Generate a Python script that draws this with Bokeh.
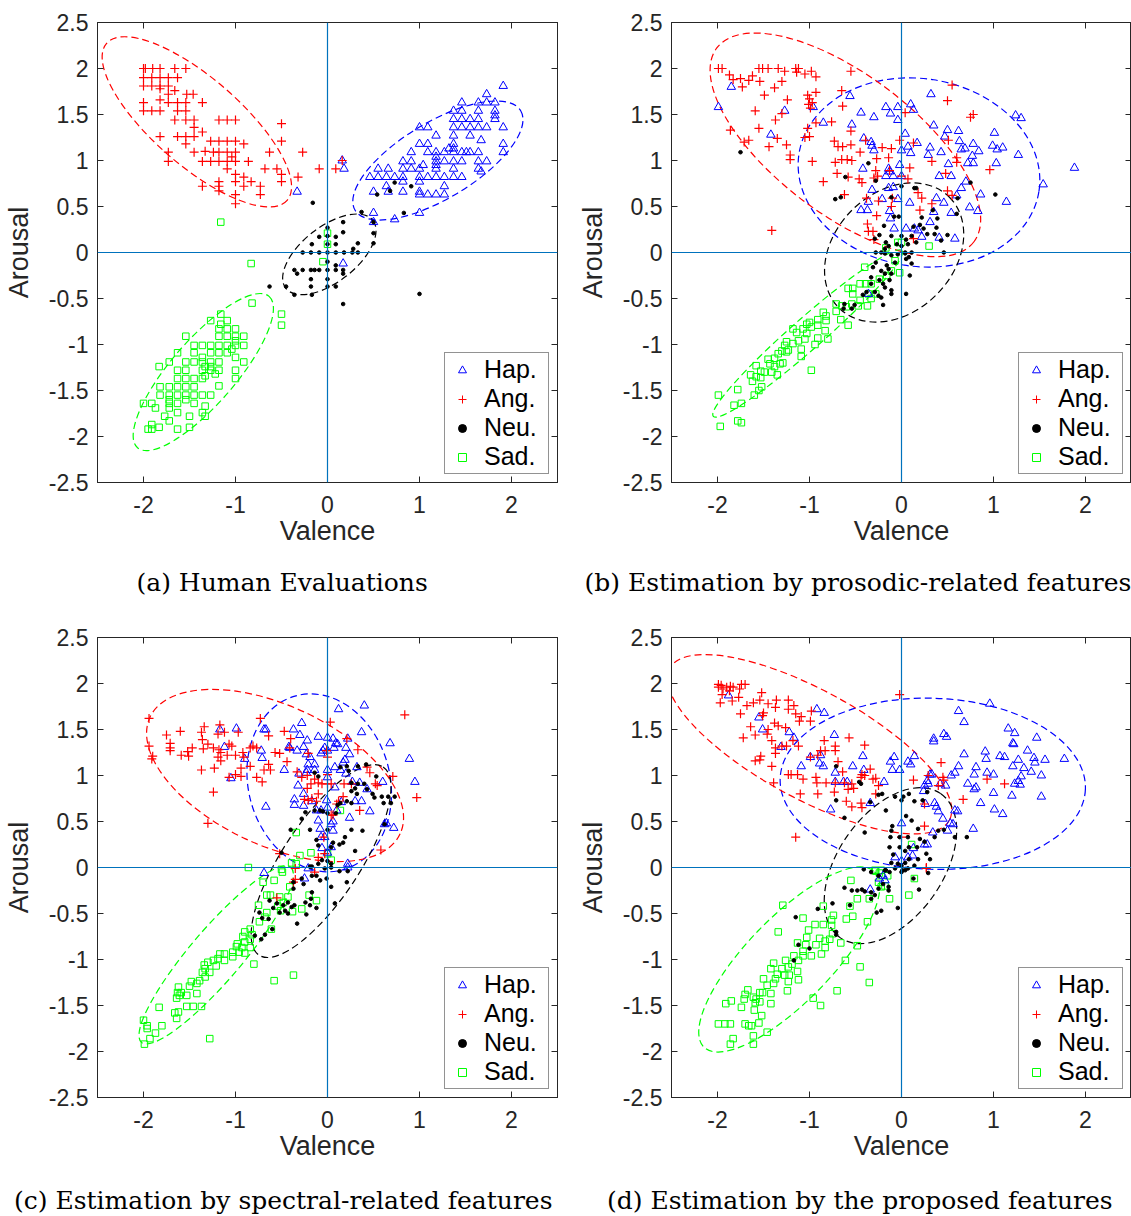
import numpy as np
from bokeh.plotting import figure
from bokeh.models import (Range1d, FixedTicker, LinearAxis, Span, Legend, LegendItem,
                          Title, Div, NumeralTickFormatter, CustomJSTickFormatter)
from bokeh.layouts import column, row
from bokeh.embed import file_html
from bokeh.resources import INLINE

# ---------------- data (valence, arousal) ----------------
A_HAP = [(1.91,1.81),(1.73,1.72),(1.46,1.63),(1.64,1.63),(1.73,1.63),(1.82,1.63),
(1.37,1.54),(1.46,1.54),(1.64,1.54),(1.82,1.54),(1.82,1.49),
(1.37,1.45),(1.46,1.45),(1.55,1.45),(1.64,1.45),(1.82,1.45),
(1.0,1.36),(1.09,1.36),(1.37,1.36),(1.46,1.36),(1.55,1.36),(1.64,1.36),(1.73,1.36),(1.91,1.36),
(1.18,1.27),(1.37,1.27),(1.55,1.27),(1.67,1.22),
(1.0,1.18),(1.09,1.18),(1.37,1.18),(1.91,1.18),(1.32,1.13),(1.37,1.13),
(0.91,1.09),(1.09,1.09),(1.18,1.09),(1.27,1.09),(1.37,1.09),(1.46,1.09),(1.51,1.09),(1.55,1.09),(1.64,1.09),(1.91,1.09),
(1.18,1.04),
(0.82,0.99),(0.91,0.99),(1.18,0.99),(1.27,0.99),(1.37,0.99),(1.46,0.99),(1.64,0.99),(1.73,0.99),
(1.18,0.95),(1.04,0.95),
(0.55,0.91),(0.66,0.91),(0.82,0.91),(0.91,0.91),(1.0,0.91),(1.18,0.91),(1.37,0.91),(1.64,0.91),(1.67,0.88),(0.18,0.91),
(0.46,0.82),(0.55,0.82),(0.64,0.82),(0.73,0.82),(0.82,0.82),(1.0,0.82),(1.09,0.82),(1.18,0.82),(1.27,0.82),(1.37,0.82),(1.46,0.82),
(1.0,0.77),(0.82,0.77),(0.64,0.72),(1.27,0.72),
(0.5,0.66),(0.66,0.66),(0.82,0.66),(1.0,0.66),
(1.0,0.63),(1.09,0.63),(1.18,0.63),(1.27,0.63),
(-0.33,0.66),(0.5,0.43),(1.0,0.43),(0.5,0.33),(0.73,0.36),(0.16,1.0),(0.17,-0.12)]
A_ANG = [(-2.0,2.0),(-1.98,2.0),(-1.9,2.0),(-1.82,2.0),(-1.66,2.0),(-1.54,2.0),
(-2.0,1.9),(-1.91,1.9),(-1.82,1.9),(-1.73,1.9),(-1.63,1.9),
(-2.0,1.81),(-1.91,1.81),(-1.82,1.81),(-1.73,1.81),(-1.82,1.78),(-1.66,1.76),
(-1.73,1.72),(-1.53,1.72),(-1.46,1.72),
(-2.0,1.63),(-1.82,1.66),(-1.73,1.63),(-1.63,1.63),(-1.54,1.63),(-1.36,1.63),
(-2.0,1.54),(-1.91,1.54),(-1.82,1.54),(-1.63,1.54),(-1.54,1.54),
(-1.66,1.44),(-1.54,1.44),(-1.45,1.44),(-1.18,1.44),(-1.09,1.44),(-1.0,1.44),(-0.5,1.4),
(-1.45,1.36),(-1.36,1.31),
(-1.82,1.26),(-1.63,1.26),(-1.54,1.26),(-1.45,1.26),
(-1.27,1.21),(-1.18,1.21),(-1.09,1.21),(-1.0,1.21),(-0.5,1.21),(-1.54,1.18),(-0.91,1.18),
(-1.73,1.09),(-1.45,1.09),(-1.33,1.1),(-1.24,1.09),(-1.18,1.09),(-1.09,1.09),(-1.0,1.09),(-0.63,1.09),(-0.27,1.09),(-1.04,1.04),
(-1.73,0.99),(-1.36,0.99),(-1.27,0.99),(-1.18,0.99),(-1.09,0.99),(-1.0,0.99),(-0.86,0.99),
(-1.09,0.91),(-0.68,0.91),(-0.55,0.91),(-0.09,0.91),(0.09,0.91),
(-1.0,0.85),(-0.5,0.85),(-0.91,0.82),(-0.32,0.82),
(-1.18,0.77),(-1.0,0.77),(-0.83,0.77),(-0.5,0.77),
(-1.36,0.72),(-1.18,0.72),(-0.91,0.72),(-0.73,0.72),
(-1.18,0.67),(-1.0,0.63),(-0.73,0.63),(-1.0,0.53),(0.16,1.0)]
A_NEU = [(-0.16,0.54),(0.54,0.63),(0.68,0.67),(0.73,0.76),(0.91,0.72),(0.83,0.43),(0.37,0.44),(0.5,0.33),(0.5,0.21),
(0.17,0.33),(0.17,0.22),(0.0,0.27),(-0.09,0.17),(0.09,0.17),(-0.17,0.09),(0.0,0.09),(0.09,0.09),(0.33,0.1),(0.28,0.04),(0.5,0.1),
(-0.27,0.0),(-0.18,0.0),(-0.09,0.0),(0.0,0.0),(0.09,0.0),(0.18,0.0),(0.27,0.0),(0.33,0.0),
(-0.36,-0.19),(-0.27,-0.19),(-0.18,-0.19),(-0.14,-0.19),(-0.09,-0.19),(0.0,-0.19),(0.09,-0.19),(0.17,-0.19),
(0.09,-0.14),(-0.33,-0.23),(0.17,-0.23),(-0.18,-0.29),(0.0,-0.29),
(-0.63,-0.37),(-0.45,-0.37),(-0.18,-0.37),(0.0,-0.37),(0.09,-0.37),
(-0.36,-0.46),(-0.17,-0.46),(1.0,-0.45),(0.17,-0.56),(0.0,-0.1),(0.0,0.18)]
A_SAD = [(-1.16,0.33),(0.0,0.21),(0.0,0.09),(-0.83,-0.12),(-0.05,-0.1),(-0.82,-0.55),(-0.5,-0.67),(-0.5,-0.79),
(-1.16,-0.67),(-1.27,-0.74),(-1.16,-0.78),(-1.09,-0.74),(-1.18,-0.83),(-1.09,-0.83),(-1.0,-0.83),
(-1.54,-0.91),(-1.18,-0.91),(-1.09,-0.91),(-1.0,-0.91),(-0.91,-0.91),(-1.0,-0.96),
(-1.45,-1.01),(-1.36,-1.01),(-1.27,-1.01),(-1.18,-1.01),(-1.09,-1.01),(-1.0,-1.01),(-0.91,-1.01),(-1.04,-1.05),
(-1.63,-1.09),(-1.45,-1.09),(-1.27,-1.09),(-1.18,-1.09),(-1.09,-1.09),(-1.0,-1.14),(-1.36,-1.14),
(-1.72,-1.19),(-1.54,-1.19),(-1.45,-1.19),(-1.36,-1.19),(-1.27,-1.19),(-1.18,-1.19),(-0.91,-1.19),
(-1.83,-1.24),(-1.33,-1.24),(-1.27,-1.24),
(-1.63,-1.28),(-1.54,-1.28),(-1.36,-1.28),(-1.27,-1.28),(-1.18,-1.28),(-1.0,-1.28),(-1.22,-1.32),(-1.33,-1.34),
(-1.63,-1.37),(-1.54,-1.37),(-1.45,-1.37),(-1.36,-1.37),(-1.0,-1.37),(-1.18,-1.45),
(-1.82,-1.46),(-1.72,-1.46),(-1.63,-1.46),(-1.54,-1.46),(-1.45,-1.46),
(-1.82,-1.55),(-1.72,-1.55),(-1.63,-1.55),(-1.54,-1.55),(-1.45,-1.55),(-1.36,-1.55),(-1.27,-1.55),
(-1.72,-1.6),(-1.54,-1.6),(-2.0,-1.64),(-1.91,-1.64),(-1.72,-1.64),(-1.63,-1.64),(-1.45,-1.64),
(-1.87,-1.69),(-1.72,-1.69),(-1.33,-1.67),(-1.63,-1.74),(-1.36,-1.74),(-1.77,-1.78),(-1.5,-1.78),(-1.33,-1.78),
(-1.72,-1.83),(-1.91,-1.87),(-1.83,-1.9),(-1.95,-1.92),(-1.91,-1.92),(-1.63,-1.92),(-1.5,-1.9)]

B_HAP = [(-1.85,1.8),(-1.99,1.58),(-1.27,1.54),(-1.42,1.28),(-0.96,1.58),(-0.56,1.7),(-0.85,1.41),(-0.54,1.39),(-0.44,1.52),(-0.3,1.47),(-0.17,1.58),(-0.12,1.51),(-0.04,1.58),(-0.04,1.44),(0.1,1.61),(0.13,1.55),(0.32,1.72),(0.04,1.29),(-0.41,1.24),(-0.33,1.2),(-0.32,1.16),(-0.3,1.11),(0.0,1.11),(0.07,1.15),(0.1,1.08),(0.17,1.19),(0.31,1.14),(0.29,1.06),(0.43,1.09),(0.35,1.38),(0.5,1.33),(0.47,1.26),(0.62,1.32),(0.63,1.21),(0.69,1.13),(0.65,1.12),(0.78,1.18),(0.84,1.1),(0.77,1.05),(0.72,0.97),(0.78,0.97),(0.51,0.96),(1.01,1.3),(0.99,1.16),(1.04,1.12),(1.1,1.14),(1.03,0.97),(1.24,1.49),(1.3,1.46),(1.27,1.06),(1.88,0.92),(1.54,0.74),(1.14,0.55),(0.83,0.45),(0.74,0.49),(0.86,0.63),(0.7,0.77),(0.65,0.7),(0.6,0.62),(0.54,0.83),(0.54,0.43),(0.41,0.83),(0.38,0.59),(0.46,0.54),(0.35,0.44),(0.31,0.33),(-0.42,0.91),(-0.32,0.68),(-0.14,0.91),(-0.13,0.88),(-0.17,0.83),(-0.09,0.83),(-0.02,0.95),(0.0,0.83),(-0.14,0.7),(-0.09,0.71),(-0.21,0.58),(-0.04,0.58),(0.09,0.54),(-0.36,0.55),(-0.44,0.46),(-0.37,0.46),(-0.13,0.45),(-0.12,0.37),(-0.08,0.26),(0.05,0.26),(0.14,0.26),(0.22,0.17),(0.58,0.15),(0.41,0.16),(0.18,0.24),(-0.36,-0.45)]
B_ANG = [(-1.99,2.0),(-1.95,2.0),(-1.87,1.93),(-1.83,1.88),(-1.75,1.89),(-1.66,1.87),(-1.62,1.92),(-1.55,2.0),(-1.51,2.0),(-1.45,2.0),(-1.34,2.0),(-1.27,1.97),(-1.15,2.0),(-1.12,2.0),(-1.14,1.96),(-1.05,1.94),(-0.98,1.97),(-0.93,1.91),(-0.55,1.97),
(-1.73,1.8),(-1.54,1.86),(-1.3,1.86),(-1.38,1.79),(-1.49,1.71),(-1.24,1.66),(-1.59,1.54),(-1.3,1.51),(-1.37,1.44),(-1.55,1.35),(-1.86,1.33),(-1.66,1.22),(-1.71,1.2),(-1.44,1.15),(-1.35,1.24),(-1.25,1.17),(-1.21,1.06),(-1.21,1.01),
(-1.02,1.71),(-0.93,1.74),(-1.0,1.67),(-0.97,1.63),(-1.01,1.61),(-0.99,1.57),(-0.65,1.76),(-0.64,1.59),(-0.93,1.41),(-0.76,1.42),(-1.02,1.35),(-1.05,1.25),(-1.0,1.26),(-0.55,1.32),(-0.73,1.21),(-0.69,1.15),(-0.64,1.15),(-0.55,1.17),(-0.39,1.22),(-0.45,1.09),(-0.65,1.01),(-0.59,1.01),(-0.54,1.0),(-0.97,0.99),(-0.72,0.98),(-0.7,0.86),(-0.58,0.82),(-0.85,0.77),(-0.46,0.8),(-0.43,0.76),(-0.3,0.81),(-0.26,0.83),(-0.27,1.02),(-0.21,1.14),(-0.14,1.03),(-0.11,1.13),(-0.02,1.22),(0.04,1.52),(0.09,0.92),(0.0,0.83),(0.07,0.8),(-0.28,0.89),(-0.13,0.89),(-0.62,0.63),(-0.38,0.59),(-0.25,0.56),(-0.1,0.59),(-0.11,0.5),(-0.27,0.4),(-0.37,0.31),(-0.31,0.23),(-0.36,0.23),(-0.3,0.14),(0.13,1.19),(0.2,0.46),(0.22,0.59),(0.18,0.65),(0.33,0.53),(0.33,0.99),(0.5,1.65),(0.55,1.82),(0.75,1.47),(0.78,1.5),(0.51,1.22),(0.6,1.03),(0.6,0.98),(0.48,0.86),(0.5,0.67),(0.55,0.62),(0.96,0.9),(0.13,0.15),(-1.41,0.24)]
B_NEU = [(-1.75,1.09),(-0.61,0.82),(-0.36,0.97),(-0.72,0.58),(-0.66,0.6),(-0.28,0.78),(0.14,0.7),(0.0,0.72),(0.75,0.76),(1.02,0.63),(0.61,0.59),(0.6,0.42),(0.34,0.46),(0.16,0.7),(-0.11,0.6),(-0.08,0.39),(-0.03,0.39),(-0.19,0.29),(-0.24,0.19),(-0.29,0.15),(-0.17,0.11),(-0.11,0.18),(0.0,0.18),(0.05,0.14),(0.11,0.18),(0.2,0.3),(0.22,0.38),(0.28,0.2),(0.36,0.2),(0.39,0.37),(0.38,0.27),(0.5,0.19),(0.43,0.13),(0.46,0.0),(-0.18,0.04),(-0.14,0.07),(-0.05,0.09),(0.0,0.07),(0.07,0.09),(0.16,0.11),(-0.28,0.0),(-0.22,0.0),(0.04,0.0),(0.11,0.0),(0.13,0.28),(0.24,0.26),(-0.18,-0.01),(-0.11,-0.03),(-0.04,-0.02),(0.04,-0.01),(0.08,-0.05),(0.11,-0.12),(0.05,-0.07),(-0.28,-0.11),(-0.22,-0.2),(-0.18,-0.23),(-0.14,-0.18),(-0.11,-0.23),(-0.07,-0.11),(-0.33,-0.27),(-0.33,-0.34),(-0.24,-0.3),(-0.2,-0.34),(-0.13,-0.3),(-0.18,-0.38),(-0.29,-0.43),(-0.25,-0.47),(-0.22,-0.49),(-0.11,-0.41),(-0.11,-0.45),(-0.2,-0.57),(0.05,-0.45),(0.09,-0.25),(-0.38,-0.43),(-0.42,-0.46),(-0.62,-0.56),(-0.63,-0.61),(-0.54,-0.61),(-0.51,-0.57),(-0.16,-0.14),(-0.31,-0.16)]
B_SAD = [(-0.17,0.05),(-0.04,0.11),(0.0,0.11),(0.3,0.07),(-0.02,-0.22),(-0.07,-0.09),(-0.11,-0.2),(-0.16,-0.25),(-0.24,-0.29),(-0.33,-0.34),(-0.39,-0.34),(-0.36,-0.45),(-0.28,-0.45),(-0.33,-0.5),(-0.4,-0.16),(-0.45,-0.34),(-0.53,-0.39),(-0.58,-0.39),(-0.53,-0.45),(-0.45,-0.52),(-0.37,-0.58),(-0.47,-0.58),(-0.54,-0.56),(-0.6,-0.59),(-0.65,-0.58),(-0.71,-0.56),(-0.71,-0.64),(-0.66,-0.73),(-0.58,-0.79),(-0.85,-0.65),(-0.82,-0.69),(-0.91,-0.73),(-0.82,-0.74),(-1.0,-0.76),(-1.03,-0.78),(-0.91,-0.79),(-0.83,-0.85),(-0.98,-0.81),(-1.07,-0.83),(-1.18,-0.83),(-1.03,-0.88),(-1.14,-0.87),(-1.05,-0.94),(-0.91,-0.93),(-0.8,-0.94),(-1.12,-0.96),(-1.18,-0.99),(-1.25,-0.97),(-1.27,-1.01),(-1.09,-1.05),(-0.94,-1.0),(-1.23,-1.06),(-1.3,-1.07),(-1.34,-1.1),(-1.25,-1.08),(-1.09,-1.13),(-1.38,-1.15),(-1.45,-1.16),(-1.43,-1.21),(-1.32,-1.21),(-1.38,-1.24),(-1.29,-1.2),(-1.58,-1.23),(-1.53,-1.29),(-1.49,-1.3),(-1.41,-1.3),(-1.35,-1.33),(-1.64,-1.33),(-1.58,-1.35),(-1.53,-1.36),(-1.62,-1.4),(-0.98,-1.28),(-1.52,-1.46),(-1.55,-1.5),(-1.78,-1.49),(-1.6,-1.55),(-1.99,-1.55),(-1.82,-1.66),(-1.74,-1.64),(-1.78,-1.83),(-1.74,-1.85),(-1.97,-1.89)]

C_HAP = [(-1.17,1.5),(-0.99,1.51),(-1.12,1.31),(-1.05,0.97),(-0.9,1.18),(-0.72,1.27),(-0.71,1.19),(-0.69,1.5),(-0.67,1.5),(-0.67,0.66),(-0.47,1.06),(-0.37,1.5),(-0.3,1.44),(-0.28,1.57),(-0.22,1.38),(-0.26,1.31),(-0.41,1.3),(-0.42,1.31),(-0.33,1.27),(-0.23,1.23),(-0.19,1.2),(-0.1,1.42),(0.0,1.41),(0.06,1.4),(0.09,1.35),(0.11,1.34),(0.07,1.3),(-0.05,1.27),(-0.03,1.3),(-0.07,1.24),(0.0,1.27),(0.12,1.72),(0.4,1.76),(0.22,1.4),(0.2,1.3),(0.24,1.23),(0.37,1.47),(0.19,1.17),(0.17,1.14),(0.08,1.09),(0.14,1.06),(0.32,1.09),(0.2,1.02),(-0.21,1.12),(-0.22,1.06),(-0.31,1.02),(-0.23,1.03),(-0.14,1.12),(-0.14,1.06),(0.0,1.06),(0.0,0.98),(-0.32,0.89),(-0.26,0.8),(-0.36,0.74),(-0.26,0.67),(-0.17,0.72),(-0.12,0.62),(-0.07,0.62),(-0.01,0.73),(0.0,0.65),(0.08,0.87),(0.1,0.62),(0.27,0.93),(0.35,0.92),(0.15,0.71),(0.3,0.72),(0.37,0.72),(0.24,0.54),(0.46,0.61),(0.43,0.85),(0.6,0.93),(0.68,1.35),(0.89,1.18),(0.95,0.93),(0.64,0.48),(0.72,0.43),(-0.1,0.51),(0.06,0.5),(0.04,0.47),(-0.08,0.42),(0.06,0.4),(-0.07,0.33),(-0.03,0.33),(0.04,0.22),(0.0,0.16),(-0.06,0.21),(0.22,0.04),(0.62,0.47),(-0.36,0.68),(-0.69,-0.06),(-0.25,-0.12),(-0.21,-0.01),(0.22,0.0)]
C_ANG = [(-1.94,1.62),(-1.75,1.44),(-1.6,1.48),(-1.37,1.47),(-1.34,1.53),(-1.36,1.39),(-1.19,1.45),(-1.17,1.55),(-1.12,1.47),(-0.97,1.47),(-1.94,1.32),(-1.71,1.35),(-1.71,1.3),(-1.71,1.27),(-1.9,1.21),(-1.91,1.18),(-1.59,1.22),(-1.52,1.26),(-1.51,1.21),(-1.47,1.3),(-1.35,1.29),(-1.3,1.34),(-1.24,1.3),(-1.18,1.28),(-1.16,1.25),(-1.19,1.2),(-1.16,1.16),(-1.09,1.22),(-1.07,1.34),(-1.04,1.32),(-1.0,1.22),(-0.92,1.25),(-0.91,1.2),(-0.84,1.3),(-0.81,1.32),(-0.77,1.3),(-0.84,1.1),(-1.37,1.06),(-1.23,1.08),(-1.07,0.98),(-1.0,1.01),(-0.94,0.99),(-0.94,1.08),(-0.77,0.98),(-0.69,1.06),(-0.71,0.93),(-0.64,1.12),(-0.62,1.06),(-0.64,1.43),(-0.73,1.62),(-0.57,1.25),(-0.52,1.24),(-0.47,1.48),(-0.4,1.4),(-0.44,1.15),(-0.41,1.3),(-1.24,0.82),(-1.3,0.48),(-0.33,1.04),(-0.28,0.98),(-0.22,1.0),(-0.14,0.96),(-0.1,0.92),(-0.22,0.86),(-0.18,0.91),(-0.06,0.91),(0.0,0.91),(0.04,0.91),(0.0,1.01),(-0.01,1.27),(0.0,1.2),(0.03,1.58),(0.21,1.4),(0.33,1.28),(0.26,0.91),(0.18,0.91),(0.52,0.91),(0.46,1.03),(0.43,1.09),(0.1,0.69),(0.12,0.72),(0.06,0.57),(0.04,0.57),(0.17,0.77),(0.35,0.62),(-0.1,0.8),(-0.17,0.75),(-0.21,0.73),(-0.25,0.74),(-0.21,1.24),(-0.12,0.72),(-0.04,0.33),(-0.03,0.15),(-0.1,0.11),(-0.52,0.15),(0.58,0.19),(0.71,0.99),(0.84,1.66),(0.97,0.76),(0.54,0.89),(-0.35,-0.01),(-0.14,-0.05),(-0.35,-0.13),(-0.37,-0.16),(-0.55,-0.33)]
C_NEU = [(-0.14,1.03),(-0.1,0.99),(0.14,1.09),(0.21,1.1),(0.23,1.05),(0.33,1.1),(0.42,1.12),(0.53,0.99),(0.26,0.92),(0.33,0.91),(0.4,0.91),(0.3,0.86),(0.26,0.83),(0.32,0.8),(0.43,0.85),(0.49,0.8),(0.51,0.76),(0.59,0.77),(0.66,0.77),(0.73,0.77),(0.69,0.7),(0.61,0.7),(0.26,0.7),(0.21,0.72),(0.14,0.7),(0.11,0.68),(0.09,0.59),(0.0,0.59),(-0.05,0.61),(-0.08,0.62),(-0.14,0.62),(-0.24,0.6),(-0.28,0.53),(-0.19,0.41),(-0.4,0.41),(0.0,0.41),(0.26,0.41),(0.38,0.4),(0.19,0.33),(0.17,0.27),(0.13,0.25),(0.06,0.27),(0.04,0.22),(0.3,0.18),(0.62,0.47),(-0.12,0.3),(-0.1,0.24),(-0.06,0.08),(-0.1,0.04),(-0.17,0.01),(0.0,0.07),(0.04,0.04),(0.04,0.0),(0.13,-0.04),(-0.5,0.16),(-0.19,0.01),(-0.37,-0.16),(-0.37,-0.23),(-0.28,-0.12),(-0.26,-0.18),(-0.17,-0.09),(-0.12,-0.09),(-0.08,-0.14),(-0.03,-0.01),(-0.01,-0.12),(0.04,-0.21),(0.21,-0.16),(0.22,-0.04),(0.08,-0.39),(-0.63,-0.36),(-0.55,-0.39),(-0.48,-0.41),(-0.43,-0.38),(-0.46,-0.47),(-0.52,-0.49),(-0.43,-0.5),(-0.59,-0.44),(-0.71,-0.55),(-0.64,-0.56),(-0.33,-0.61),(-0.23,-0.51),(-0.12,-0.44),(-0.19,-0.41),(-0.24,-0.38),(-0.17,-0.27),(-0.18,-0.34),(-0.36,-0.41),(-0.39,-0.43),(-0.6,-0.67),(-0.72,-0.78),(-0.79,-0.74),(-0.68,-0.73),(-0.74,-0.49)]
C_SAD = [(-0.34,0.38),(0.14,0.62),(-0.18,0.16),(-0.3,0.13),(-0.39,0.05),(-0.34,0.04),(0.04,0.08),(0.0,0.15),(-0.86,0.0),(-0.5,-0.02),(-0.7,-0.16),(-0.58,-0.14),(-0.49,-0.05),(-0.41,-0.21),(-0.66,-0.3),(-0.62,-0.3),(-0.52,-0.32),(-0.43,-0.32),(-0.48,-0.38),(-0.54,-0.42),(-0.51,-0.47),(-0.38,-0.48),(-0.28,-0.45),(-0.12,-0.36),(-0.2,-0.3),(-0.75,-0.41),(-0.66,-0.49),(-0.68,-0.54),(-0.74,-0.59),(-0.61,-0.67),(-0.84,-0.67),(-0.9,-0.7),(-0.92,-0.75),(-0.82,-0.73),(-0.84,-0.78),(-0.9,-0.81),(-0.98,-0.83),(-0.99,-0.86),(-0.93,-0.87),(-0.84,-0.87),(-0.96,-0.92),(-1.03,-0.92),(-1.12,-0.94),(-1.17,-0.94),(-1.03,-0.97),(-1.12,-1.01),(-1.19,-0.99),(-1.24,-1.01),(-1.3,-1.03),(-1.21,-1.07),(-1.34,-1.06),(-1.33,-1.1),(-1.28,-1.14),(-1.36,-1.14),(-1.33,-1.19),(-1.39,-1.23),(-1.48,-1.24),(-1.42,-1.26),(-1.5,-1.29),(-1.62,-1.3),(-1.63,-1.36),(-1.59,-1.36),(-1.42,-1.37),(-1.53,-1.39),(-1.61,-1.39),(-1.64,-1.42),(-1.53,-1.51),(-1.46,-1.51),(-1.37,-1.51),(-1.83,-1.52),(-1.66,-1.58),(-1.62,-1.57),(-1.64,-1.64),(-2.0,-1.66),(-1.96,-1.72),(-1.96,-1.75),(-1.8,-1.72),(-1.87,-1.8),(-1.93,-1.86),(-1.99,-1.92),(-1.28,-1.86),(-0.8,-1.05),(-0.58,-1.23),(-0.37,-1.17),(-0.9,-0.93)]

D_HAP = [(-1.88,1.87),(-1.55,1.63),(-1.51,1.5),(-1.22,1.47),(-1.17,1.41),(-1.31,1.31),(-0.92,1.72),(-0.84,1.68),(-0.73,1.44),(-0.99,1.2),(-1.09,1.1),(-0.88,1.22),(-0.89,1.13),(-0.85,1.1),(-0.72,1.03),(-0.72,0.93),(-0.63,0.93),(-0.59,0.93),(-0.77,0.63),(-0.53,1.1),(-0.42,1.21),(-0.41,1.06),(-0.34,0.7),(-0.19,0.93),(-0.12,1.15),(-0.08,1.2),(-0.1,1.06),(-0.02,1.06),(0.07,1.15),(0.1,1.12),(0.14,1.21),(0.33,1.01),(0.35,1.4),(0.35,1.37),(0.46,1.45),(0.49,1.42),(0.62,1.7),(0.68,1.58),(0.68,1.23),(0.62,1.1),(0.58,1.03),(0.54,1.0),(0.48,0.89),(0.42,0.91),(0.29,0.91),(0.25,0.89),(0.28,0.94),(0.24,0.83),(0.72,0.91),(0.79,0.85),(0.81,0.87),(0.79,1.01),(0.81,1.09),(0.91,1.26),(0.92,1.18),(0.93,1.03),(1.0,1.01),(1.0,0.81),(0.96,1.78),(1.16,1.51),(1.23,1.46),(1.21,1.35),(1.22,1.34),(1.07,1.21),(1.12,1.2),(1.21,1.1),(1.27,1.17),(1.37,1.27),(1.47,1.41),(1.44,1.19),(1.45,1.14),(1.56,1.17),(1.41,1.04),(1.33,1.08),(1.3,0.99),(1.27,0.94),(1.29,0.9),(1.23,0.91),(1.52,1.0),(1.52,0.77),(1.77,1.18),(1.2,0.78),(0.86,0.7),(1.01,0.63),(1.1,0.58),(0.78,0.42),(0.61,0.61),(0.53,0.48),(0.56,0.47),(0.5,0.4),(0.45,0.53),(0.4,0.61),(0.36,0.7),(0.38,0.66),(0.26,0.69),(0.34,0.38),(0.25,0.25),(0.28,0.25),(0.13,0.21),(0.0,0.48),(0.07,0.11),(-0.07,0.11),(0.12,0.13),(0.0,0.07),(0.31,1.01),(0.58,0.62),(-0.34,-0.24),(-0.24,-0.12),(-0.18,-0.14),(-0.2,-0.09)]
D_ANG = [(-1.99,1.99),(-1.96,1.98),(-1.99,1.96),(-1.94,1.94),(-1.9,1.96),(-1.86,1.97),(-1.83,1.96),(-1.87,1.92),(-1.95,1.88),(-1.97,1.79),(-1.84,1.81),(-1.76,1.94),(-1.74,1.99),(-1.7,1.99),(-1.77,1.85),(-1.68,1.76),(-1.61,1.79),(-1.54,1.82),(-1.52,1.9),(-1.45,1.78),(-1.36,1.82),(-1.37,1.74),(-1.23,1.82),(-1.17,1.76),(-1.23,1.72),(-1.15,1.67),(-1.09,1.64),(-1.11,1.59),(-0.98,1.7),(-0.99,1.59),(-1.75,1.67),(-1.5,1.68),(-1.51,1.65),(-1.64,1.53),(-1.59,1.44),(-1.72,1.41),(-1.45,1.5),(-1.38,1.57),(-1.34,1.54),(-1.26,1.52),(-1.46,1.45),(-1.41,1.38),(-1.37,1.3),(-1.37,1.24),(-1.3,1.32),(-1.25,1.32),(-1.18,1.38),(-1.12,1.32),(-1.53,1.21),(-1.59,1.16),(-1.54,1.17),(-1.41,1.1),(-1.39,0.92),(-1.23,1.01),(-1.2,1.01),(-1.13,1.01),(-1.07,0.96),(-1.1,0.8),(-0.91,0.8),(-0.93,0.98),(-0.92,0.92),(-0.99,1.2),(-0.91,1.22),(-0.88,1.27),(-0.83,1.27),(-0.84,1.38),(-0.72,1.32),(-0.72,1.27),(-0.69,1.15),(-0.82,0.92),(-0.72,0.92),(-0.73,0.82),(-0.64,1.04),(-0.6,0.72),(-0.58,0.85),(-0.62,0.92),(-0.57,1.41),(-0.54,0.91),(-0.52,0.86),(-0.44,0.98),(-0.43,1.01),(-0.4,1.0),(-0.4,1.33),(-0.54,0.66),(-0.44,0.7),(-0.43,0.65),(-0.34,1.07),(-0.31,0.96),(-0.28,0.97),(-0.28,0.8),(-0.25,0.89),(-0.02,1.88),(0.13,0.95),(0.25,0.45),(0.25,0.69),(0.29,1.0),(0.4,0.89),(0.43,1.14),(0.46,0.95),(0.45,0.98),(0.67,0.74),(0.93,0.96),(1.12,0.91),(0.27,0.0),(-1.15,0.33),(0.0,0.33),(0.27,-0.01)]
D_NEU = [(-0.71,1.1),(-0.71,0.73),(-0.62,0.54),(-0.44,0.91),(-0.46,0.93),(-0.4,0.38),(-0.34,0.71),(-0.25,0.79),(-0.21,0.8),(-0.17,0.62),(-0.07,0.77),(0.0,0.73),(0.02,0.77),(0.08,0.8),(0.14,0.72),(0.23,0.73),(0.28,0.82),(0.11,0.51),(0.05,0.56),(0.18,0.42),(-0.1,0.45),(-0.11,0.4),(-0.12,0.33),(-0.02,0.33),(0.07,0.33),(0.2,0.31),(0.25,0.28),(0.36,0.33),(0.4,0.4),(0.46,0.41),(0.58,0.33),(0.71,0.33),(-0.13,0.22),(-0.02,0.22),(0.04,0.18),(0.08,0.22),(0.17,0.22),(0.27,0.15),(0.31,0.09),(0.18,0.09),(0.08,0.09),(-0.09,0.14),(-0.11,0.05),(-0.04,0.04),(0.0,0.02),(0.04,0.05),(0.14,0.02),(-0.17,-0.03),(0.01,-0.03),(-0.41,-0.02),(-0.33,-0.05),(-0.25,-0.09),(-0.18,-0.03),(-0.13,-0.05),(-0.07,-0.01),(0.0,-0.05),(0.04,-0.03),(0.07,-0.01),(0.13,-0.12),(0.19,-0.24),(0.29,-0.06),(-0.04,-0.44),(-0.22,-0.47),(-0.27,-0.49),(-0.33,-0.34),(-0.29,-0.3),(-0.25,-0.23),(-0.2,-0.18),(-0.14,-0.21),(-0.14,-0.25),(-0.62,-0.22),(-0.54,-0.25),(-0.48,-0.25),(-0.43,-0.24),(-0.4,-0.26),(-0.33,-0.27),(-0.75,-0.39),(-0.91,-0.45),(-1.15,-0.54),(-0.71,-0.7),(-0.71,-0.73),(-0.56,-0.41),(-1.12,-0.84),(-1.0,-0.88),(-1.17,-1.01)]
D_SAD = [(0.11,0.25),(-0.29,-0.03),(-0.22,-0.03),(-0.28,-0.04),(-0.24,-0.06),(-0.15,-0.09),(-0.25,-0.16),(-0.18,-0.2),(-0.13,-0.34),(-0.22,-0.21),(0.08,-0.3),(0.14,-0.12),(-0.55,-0.14),(-0.48,-0.34),(-0.35,-0.34),(-0.56,-0.42),(-0.85,-0.42),(-1.29,-0.41),(-1.07,-0.55),(-0.74,-0.52),(-0.53,-0.53),(-0.6,-0.56),(-0.76,-0.57),(-0.37,-0.59),(-0.76,-0.63),(-0.85,-0.62),(-0.94,-0.62),(-1.01,-0.68),(-1.34,-0.7),(-1.03,-0.76),(-0.89,-0.77),(-0.78,-0.78),(-0.83,-0.8),(-0.66,-0.82),(-0.48,-0.85),(-1.13,-0.82),(-1.04,-0.84),(-0.93,-0.84),(-0.83,-0.87),(-1.07,-0.91),(-0.87,-0.94),(-0.98,-0.96),(-1.07,-0.96),(-1.17,-0.96),(-1.26,-1.01),(-1.12,-1.01),(-1.19,-1.05),(-1.39,-1.04),(-1.23,-1.08),(-1.3,-1.1),(-1.42,-1.1),(-1.13,-1.13),(-1.35,-1.16),(-1.27,-1.17),(-1.22,-1.17),(-1.37,-1.21),(-1.23,-1.24),(-1.12,-1.22),(-1.5,-1.21),(-1.39,-1.26),(-1.46,-1.28),(-1.51,-1.36),(-1.54,-1.36),(-1.42,-1.37),(-1.24,-1.34),(-1.67,-1.33),(-1.61,-1.41),(-1.58,-1.43),(-1.59,-1.47),(-1.54,-1.46),(-1.42,-1.48),(-1.7,-1.38),(-1.71,-1.43),(-1.85,-1.45),(-1.91,-1.48),(-1.74,-1.52),(-1.6,-1.55),(-1.52,-1.61),(-1.7,-1.7),(-1.66,-1.72),(-1.63,-1.72),(-1.55,-1.69),(-1.99,-1.7),(-1.92,-1.7),(-1.86,-1.7),(-1.83,-1.86),(-1.86,-1.92),(-1.61,-1.83),(-1.61,-1.92),(-1.46,-1.79),(-0.96,-1.42),(-0.88,-1.5),(-0.7,-1.34),(-0.61,-1.01),(-0.45,-1.08),(-0.35,-1.25),(-0.75,-0.72)]

# ellipse parameters per class: (centre x, centre y, full width, full height, angle deg)
A_ELL = {"hap": (1.2, 1.0, 2.1, 0.83, 31), "ang": (-1.42, 1.42, 2.6, 0.95, -41),
         "neu": (0.02, -0.02, 1.2, 0.6, 38), "sad": (-1.35, -1.3, 2.18, 0.7, 49)}
B_ELL = {"hap": (0.19, 0.87, 2.64, 2.04, -9), "ang": (-0.61, 1.17, 3.5, 1.52, -37),
         "neu": (-0.08, 0.0, 1.7, 1.3, 45), "sad": (-1.02, -0.88, 2.73, 0.34, 41.3)}
C_ELL = {"hap": (-0.09, 0.92, 1.54, 1.96, 15), "ang": (-0.57, 1.0, 3.0, 1.52, -25),
         "neu": (-0.07, 0.07, 2.45, 0.84, 56.6), "sad": (-1.21, -0.95, 2.5, 0.56, 49.5)}
D_ELL = {"hap": (0.34, 0.91, 3.32, 1.86, -2), "ang": (-1.0, 1.34, 3.46, 1.18, -28.5),
         "neu": (-0.12, 0.02, 1.91, 1.14, 55), "sad": (-1.22, -1.0, 2.66, 0.92, 45.8)}

CAPTIONS = ["(a) Human Evaluations", "(b) Estimation by prosodic-related features",
            "(c) Estimation by spectral-related features", "(d) Estimation by the proposed features"]
LABELS = ["Hap.", "Ang.", "Neu.", "Sad."]
X_TICKS = [-2, -1, 0, 1, 2]
Y_TICKS = [-2.5, -2, -1.5, -1, -0.5, 0, 0.5, 1, 1.5, 2, 2.5]

COLORS = {"hap": "#0000FF", "ang": "#FF0000", "neu": "#000000", "sad": "#00FF00"}
AXC = "#262626"
SANS = "Liberation Sans"
SERIF = "DejaVu Serif"


def style_axis(ax, ticks, show_labels):
    ax.ticker = FixedTicker(ticks=ticks)
    ax.major_tick_in = 6
    ax.major_tick_out = 0
    ax.minor_tick_line_color = None
    ax.axis_line_color = AXC
    ax.major_tick_line_color = AXC
    ax.major_label_text_color = AXC
    ax.major_label_text_font = SANS
    ax.major_label_text_font_size = "23px"
    if show_labels:
        ax.formatter = NumeralTickFormatter(format="0.[0]")
        ax.major_label_standoff = 13
    else:
        ax.formatter = CustomJSTickFormatter(code="return ''")
        ax.major_label_standoff = 0
    ax.axis_label_text_font = SANS
    ax.axis_label_text_font_size = "27px"
    ax.axis_label_text_font_style = "normal"
    ax.axis_label_text_color = AXC


def unzip(pts):
    return [p[0] for p in pts], [p[1] for p in pts]


def panel(hap, ang, neu, sad, ell, width, height, right_border, bottom_border,
          caption=None, cap_offset=0, cap_standoff=0):
    p = figure(width=width, height=height, x_range=Range1d(-2.5, 2.5), y_range=Range1d(-2.5, 2.5),
               output_backend="svg", toolbar_location=None, title=None,
               min_border_left=97, min_border_right=right_border, min_border_top=22,
               min_border_bottom=bottom_border, outline_line_color=AXC,
               background_fill_color="white", border_fill_color="white")
    p.grid.visible = False
    style_axis(p.xaxis[0], X_TICKS, True)
    style_axis(p.yaxis[0], Y_TICKS, True)
    p.yaxis.major_label_standoff = 9
    p.xaxis.axis_label = "Valence"
    p.yaxis.axis_label = "Arousal"
    p.xaxis.axis_label_standoff = 0
    p.yaxis.axis_label_standoff = 12
    top = LinearAxis()
    style_axis(top, X_TICKS, False)
    p.add_layout(top, "above")
    rgt = LinearAxis()
    style_axis(rgt, Y_TICKS, False)
    p.add_layout(rgt, "right")

    p.add_layout(Span(location=0, dimension="width", line_color="#0072BD", line_width=1.2))
    p.add_layout(Span(location=0, dimension="height", line_color="#0072BD", line_width=1.2))

    for key in ["hap", "ang", "neu", "sad"]:
        cx, cy, w, h, a = ell[key]
        p.ellipse(x=[cx], y=[cy], width=[w], height=[h], angle=[np.radians(a)],
                  fill_color=None, line_color=COLORS[key], line_width=1.2, line_dash="7 4")

    hx, hy = unzip(hap)
    ax_, ay = unzip(ang)
    nx, ny = unzip(neu)
    sx, sy = unzip(sad)
    p.scatter(sx, sy, marker="square", size=6.5, fill_color=None, line_color=COLORS["sad"], line_width=1)
    p.scatter(hx, hy, marker="triangle", size=8.5, fill_color=None, line_color=COLORS["hap"], line_width=1)
    p.scatter(ax_, ay, marker="cross", size=9, line_color=COLORS["ang"], line_width=1.2)
    p.scatter(nx, ny, marker="circle", size=3.6, fill_color="black", line_color="black")

    # legend glyphs (smaller markers, as in the reference legend); points lie outside the view
    nan = [float("nan")]
    lh = p.scatter(nan, nan, marker="triangle", size=6, fill_color=None, line_color=COLORS["hap"], line_width=1)
    la = p.scatter(nan, nan, marker="cross", size=7, line_color=COLORS["ang"], line_width=1)
    ln = p.scatter(nan, nan, marker="circle", size=3.2, fill_color="black", line_color="black")
    ls = p.scatter(nan, nan, marker="square", size=5, fill_color=None, line_color=COLORS["sad"], line_width=1)
    leg = Legend(items=[LegendItem(label=LABELS[0], renderers=[lh], index=0),
                        LegendItem(label=LABELS[1], renderers=[la], index=0),
                        LegendItem(label=LABELS[2], renderers=[ln], index=0),
                        LegendItem(label=LABELS[3], renderers=[ls], index=0)],
                 location="bottom_right", margin=8, padding=2, spacing=0,
                 label_text_font=SANS, label_text_font_size="25px", label_text_color="black",
                 label_height=28, label_width=62, glyph_width=30, glyph_height=20, label_standoff=7,
                 border_line_color=AXC, border_line_width=1, background_fill_color="white",
                 background_fill_alpha=1.0)
    p.add_layout(leg)

    if caption is not None:
        p.add_layout(Title(text=caption, align="left", offset=cap_offset, text_font=SERIF,
                           text_font_size="25px", text_font_style="normal", text_color="black",
                           standoff=cap_standoff), "below")
    return p


def caption_div(text, width, pad_left):
    return Div(text=text, width=width, height=31, margin=0,
               styles={"font-family": SERIF, "font-size": "25px", "line-height": "31px",
                       "color": "black", "white-space": "nowrap", "padding-left": f"{pad_left}px",
                       "box-sizing": "border-box", "overflow": "hidden"})


pa = panel(A_HAP, A_ANG, A_NEU, A_SAD, A_ELL, 574, 615, 17, 133, CAPTIONS[0], 39, 35)
pb = panel(B_HAP, B_ANG, B_NEU, B_SAD, B_ELL, 557, 615, 0, 133, CAPTIONS[1], -87, 35)
pc = panel(C_HAP, C_ANG, C_NEU, C_SAD, C_ELL, 574, 570, 17, 88)
pd = panel(D_HAP, D_ANG, D_NEU, D_SAD, D_ELL, 557, 570, 0, 88)
cap_c = caption_div(CAPTIONS[2], 574, 14)
cap_d = caption_div(CAPTIONS[3], 557, 33)

layout = column(row(pa, pb, spacing=0), row(pc, pd, spacing=0), row(cap_c, cap_d, spacing=0),
                spacing=0)
open("out.html", "w").write(file_html(layout, INLINE))
